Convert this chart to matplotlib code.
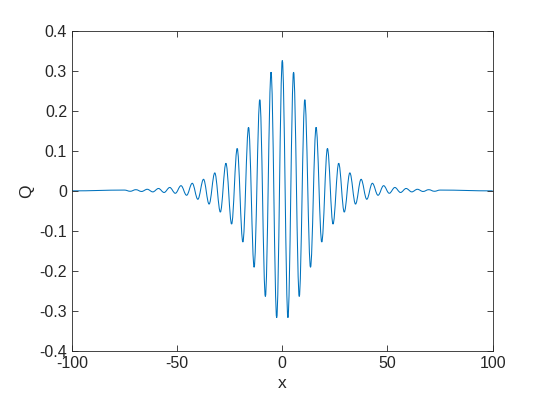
import matplotlib
matplotlib.use("Agg")
import matplotlib.pyplot as plt
from matplotlib.path import Path
from matplotlib.patches import PathPatch

# extrema of the wave packet
x_right = [0, 2.67, 5.35, 8.05, 10.7, 13.4, 16.05, 18.75, 21.45, 24.1, 26.8, 29.45,
           32.1, 34.8, 37.45, 40.15, 42.8, 45.5, 48.15, 50.85, 53.5, 56.2, 58.85,
           61.55, 64.2, 66.9, 69.6, 72.3, 75.0, 100]
q_right = [0.326, -0.317, 0.297, -0.264, 0.228, -0.191, 0.159, -0.128, 0.106, -0.083,
           0.069, -0.053, 0.045, -0.033, 0.029, -0.021, 0.019, -0.011, 0.013, -0.006,
           0.0085, -0.004, 0.006, -0.0025, 0.004, -0.0015, 0.003, -0.001, 0.002, 0.0]

x = [-v for v in x_right[:0:-1]] + x_right
q = q_right[:0:-1] + q_right

xticks = [-100, -50, 0, 50, 100]
yticks = [-0.4, -0.3, -0.2, -0.1, 0, 0.1, 0.2, 0.3, 0.4]

plt.rcParams['font.family'] = ['Liberation Sans', 'DejaVu Sans']

fig = plt.figure(figsize=(5.45, 4.01), dpi=100)
ax = fig.add_axes([0.132, 0.125, 0.772, 0.798])

# smooth curve through the extrema: cubic bezier pieces, flat at each extremum
verts = [(x[0], q[0])]
codes = [Path.MOVETO]
for i in range(len(x) - 1):
    d = x[i + 1] - x[i]
    verts += [(x[i] + 0.364 * d, q[i]), (x[i + 1] - 0.364 * d, q[i + 1]), (x[i + 1], q[i + 1])]
    codes += [Path.CURVE4] * 3
ax.add_patch(PathPatch(Path(verts, codes), fill=False, edgecolor='#0072BD', linewidth=0.75))

ax.set_xlim(-100, 100)
ax.set_ylim(-0.4, 0.4)
ax.set_xticks(xticks)
ax.set_xticklabels([str(t) for t in xticks])
ax.set_yticks(yticks)
ax.set_yticklabels(['%g' % t for t in yticks])
ax.tick_params(direction='in', top=True, right=True, length=4, width=0.6,
               labelsize=11.5, colors='#262626')
for s in ax.spines.values():
    s.set_linewidth(0.6)
    s.set_color('#262626')
ax.set_xlabel('x', fontsize=12.5, color='#262626')
ax.set_ylabel('Q', fontsize=12.5, color='#262626')

fig.savefig('out.png', dpi=100)
